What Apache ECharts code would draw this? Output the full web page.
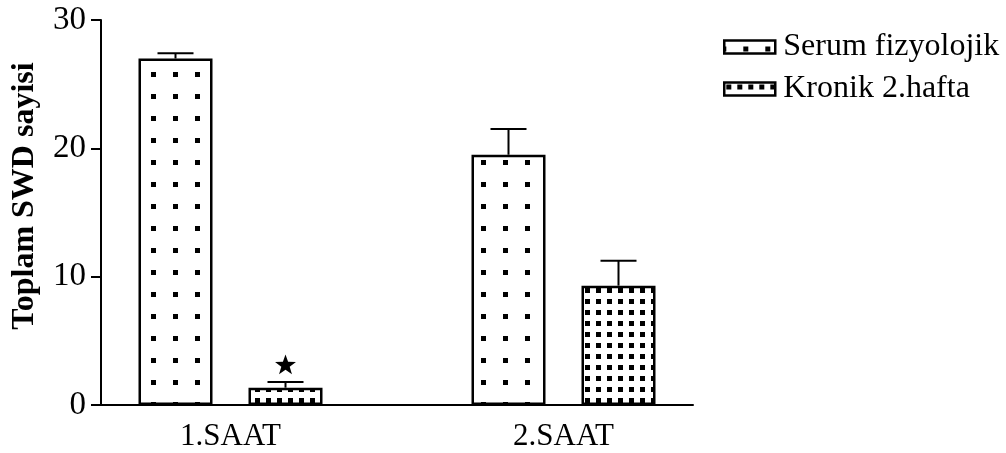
<!DOCTYPE html>
<html>
<head>
<meta charset="utf-8">
<script src="https://cdn.jsdelivr.net/npm/echarts@6/dist/echarts.min.js"></script>
<style>
  html, body { margin: 0; padding: 0; background: #fff; }
  #chart { width: 1006px; height: 453px; }
</style>
</head>
<body>
<div id="chart"></div>
<script>
// ---- data ----
const categories = ['1.SAAT', '2.SAAT'];
const seriesNames = ['Serum fizyolojik', 'Kronik 2.hafta'];
const serumMean = [27.0, 19.5];
const serumErr = [0.4, 2.0];
const kronikMean = [1.35, 9.3];
const kronikErr = [0.45, 1.95];
const kronikSignificant = [true, false];
const yMin = 0, yMax = 30, yInterval = 10;
const yTitle = 'Toplam SWD sayisi';

// ---- layout constants ----
const FONT = 'Liberation Serif';
const SLOTS = 16;          // x axis divided into slots; categories sit at these slots
const catSlot = [3, 12];
const BAR_W = 74;
const GAP_PX = 36;
const CAP_W = 36;

const axisData = [];
for (let i = 0; i < SLOTS; i++) axisData.push('');
categories.forEach((c, i) => { axisData[catSlot[i]] = c; });

function slotSeries(vals) {
  const d = [];
  for (let i = 0; i < SLOTS; i++) d.push('-');
  vals.forEach((v, i) => { d[catSlot[i]] = v; });
  return d;
}

function makePattern(tile, dots) {
  const c = document.createElement('canvas');
  c.width = tile; c.height = tile;
  const ctx = c.getContext('2d');
  ctx.fillStyle = '#fff';
  ctx.fillRect(0, 0, tile, tile);
  ctx.fillStyle = '#000';
  dots.forEach(d => ctx.fillRect(d[0], d[1], d[2], d[3]));
  return { image: c, repeat: 'repeat' };
}
const serumPattern = makePattern(22, [[19, 6, 5, 5], [-3, 6, 5, 5]]);
const kronikPattern = makePattern(11, [[2, 2, 5, 5]]);

const errData = [];
categories.forEach((c, i) => {
  errData.push([catSlot[i], serumMean[i], serumErr[i], 0, 0]);
  errData.push([catSlot[i], kronikMean[i], kronikErr[i], 1, kronikSignificant[i] ? 1 : 0]);
});

function starPoints(cx, cy, R, r) {
  const pts = [];
  for (let k = 0; k < 10; k++) {
    const ang = -Math.PI / 2 + k * Math.PI / 5;
    const rad = k % 2 === 0 ? R : r;
    pts.push([cx + rad * Math.cos(ang), cy + rad * Math.sin(ang)]);
  }
  return pts;
}

const chart = echarts.init(document.getElementById('chart'), null, { renderer: 'canvas' });
chart.setOption({
  animation: false,
  backgroundColor: '#fff',
  textStyle: { fontFamily: FONT, color: '#000' },
  grid: { left: 101, top: 20, width: 592, height: 385, containLabel: false },
  legend: {
    orient: 'vertical',
    left: 718, top: 26,
    itemWidth: 51, itemHeight: 13, itemGap: 10,
    icon: 'rect',
    data: seriesNames,
    textStyle: { fontFamily: FONT, fontSize: 32, color: '#000', lineHeight: 30, padding: [0, 0, 0, 3] },
    itemStyle: { borderColor: '#000', borderWidth: 2.5 }
  },
  xAxis: {
    type: 'category',
    data: axisData,
    boundaryGap: true,
    axisLine: { lineStyle: { color: '#000', width: 2 } },
    axisTick: { show: false },
    axisLabel: { interval: 0, fontFamily: FONT, fontSize: 31, color: '#000', margin: 16 },
    splitLine: { show: false }
  },
  yAxis: {
    type: 'value',
    min: yMin, max: yMax, interval: yInterval,
    axisLine: { show: true, lineStyle: { color: '#000', width: 2 } },
    axisTick: { show: true, length: 10, lineStyle: { color: '#000', width: 2 } },
    axisLabel: { fontFamily: FONT, fontSize: 33, color: '#000', margin: 15 },
    splitLine: { show: false }
  },
  graphic: [{
    type: 'text',
    x: 25, y: 196,
    rotation: Math.PI / 2,
    style: {
      text: yTitle, fontFamily: FONT, fontSize: 32, fontWeight: 'bold', fill: '#000',
      align: 'center', verticalAlign: 'middle'
    }
  }],
  series: [
    {
      name: seriesNames[0], type: 'bar',
      data: slotSeries(serumMean),
      barWidth: BAR_W, barGap: (GAP_PX / BAR_W * 100) + '%',
      itemStyle: { color: serumPattern, borderColor: '#000', borderWidth: 2.5 }
    },
    {
      name: seriesNames[1], type: 'bar',
      data: slotSeries(kronikMean),
      barWidth: BAR_W, barGap: (GAP_PX / BAR_W * 100) + '%',
      itemStyle: { color: kronikPattern, borderColor: '#000', borderWidth: 2.5 }
    },
    {
      type: 'custom', z: 5,
      data: errData,
      renderItem: function (params, api) {
        const slot = api.value(0), mean = api.value(1), err = api.value(2);
        const side = api.value(3), sig = api.value(4);
        const base = api.coord([slot, mean]);
        const top = api.coord([slot, mean + err]);
        const x = base[0] + (side === 0 ? -1 : 1) * (BAR_W + GAP_PX) / 2;
        const st = { stroke: '#000', lineWidth: 2 };
        const children = [
          { type: 'line', shape: { x1: x, y1: base[1], x2: x, y2: top[1] }, style: st },
          { type: 'line', shape: { x1: x - CAP_W / 2, y1: top[1], x2: x + CAP_W / 2, y2: top[1] }, style: st }
        ];
        if (sig) {
          children.push({ type: 'polygon', shape: { points: starPoints(x, top[1] - 16.5, 11, 4.4) }, style: { fill: '#000' } });
        }
        return { type: 'group', children: children };
      }
    }
  ]
});
</script>
</body>
</html>
